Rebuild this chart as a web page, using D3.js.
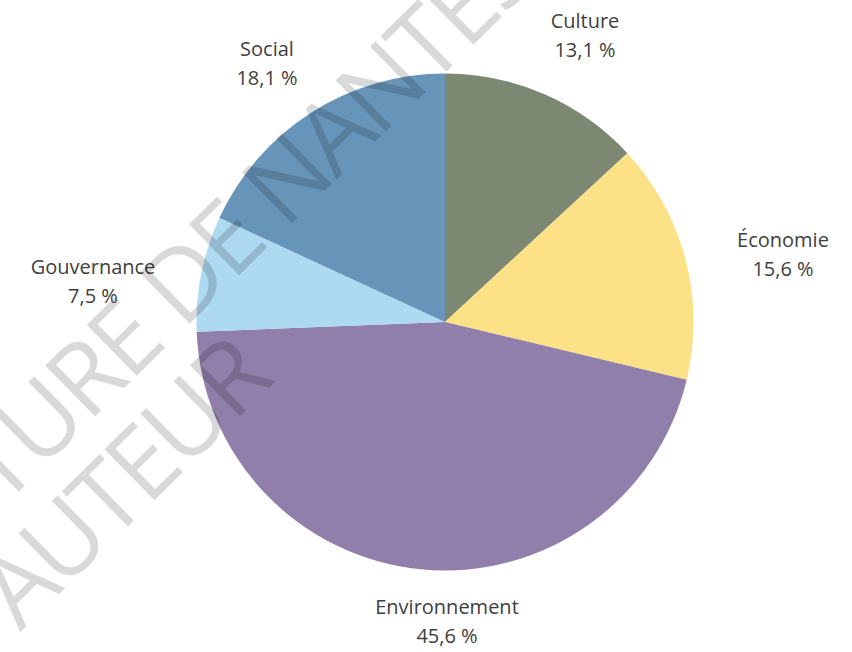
<!DOCTYPE html>
<html><head><meta charset="utf-8">
<script src="https://cdn.jsdelivr.net/npm/d3@7"></script>
<style>html,body{margin:0;padding:0;background:#fff;}svg{display:block;}</style>
</head><body>
<svg id="chart" width="852" height="652"></svg>
<script>
const categories = ["Culture", "Économie", "Environnement", "Gouvernance", "Social"];
const values = [13.1, 15.6, 45.6, 7.5, 18.1];
const valueLabels = ["13,1 %", "15,6 %", "45,6 %", "7,5 %", "18,1 %"];
const colors = ["#7C8872", "#FCE186", "#907FAA", "#ADD9F1", "#6794B9"];
const watermarkLines = ["ARCHITECTURE DE NANTES", "DROIT D'AUTEUR"];

const svg = d3.select("#chart");
const cx = 445, cy = 322, r = 248.5;

const pie = d3.pie().sort(null).value(d => d.v);
const arcs = pie(categories.map((c, i) => ({c, v: values[i], lab: valueLabels[i], col: colors[i]})));
const arc = d3.arc().innerRadius(0).outerRadius(r);

const g = svg.append("g").attr("transform", `translate(${cx},${cy})`);
g.selectAll("path").data(arcs).join("path")
  .attr("d", arc).attr("fill", d => d.data.col);

// label positions (centre x, first baseline)
const labelPos = {
  "Culture": [585, 28],
  "Économie": [783, 247],
  "Environnement": [447, 614],
  "Gouvernance": [93, 274],
  "Social": [267, 56]
};
const lineGap = 29;
const lab = svg.append("g").attr("font-family", "'Open Sans', sans-serif")
  .attr("font-size", 20).attr("fill", "#404040").attr("text-anchor", "middle");
arcs.forEach(d => {
  const p = labelPos[d.data.c];
  const t = lab.append("text").attr("x", p[0]).attr("y", p[1]);
  t.append("tspan").attr("x", p[0]).attr("y", p[1]).text(d.data.c);
  t.append("tspan").attr("x", p[0]).attr("y", p[1] + lineGap).text(d.data.lab);
});

// watermark
const angle = -44.5;
const wm = svg.append("g").attr("font-family", "'Open Sans', sans-serif")
  .attr("font-size", 100).attr("font-weight", 500)
  .attr("fill", "#000").attr("fill-opacity", 0.15);
function placeLine(str, iFrom, iTo, pFrom, pTo) {
  const gg = wm.append("g");
  const t = gg.append("text").attr("x", 0).attr("y", 0).text(str);
  const node = t.node();
  const L = node.getStartPositionOfChar(iTo).x - node.getStartPositionOfChar(iFrom).x;
  const D = Math.hypot(pTo[0] - pFrom[0], pTo[1] - pFrom[1]);
  const ls = (D - L) / (iTo - iFrom);
  t.attr("letter-spacing", ls);
  const off = node.getStartPositionOfChar(iTo).x;
  t.attr("x", -off);
  gg.attr("transform", `translate(${pTo[0]},${pTo[1]}) rotate(${angle})`);
}
{
  const s = watermarkLines[0];
  const iN = s.indexOf("NANTES");
  const iU = s.indexOf("TURE") + 1;
  placeLine(s, iU, iN, [38, 471], [285, 230]);
}
{
  const s = watermarkLines[1];
  const iA = s.indexOf("AUTEUR");
  placeLine(s, iA, iA + 5, [22, 634], [233, 423]);
}
</script>
</body></html>
